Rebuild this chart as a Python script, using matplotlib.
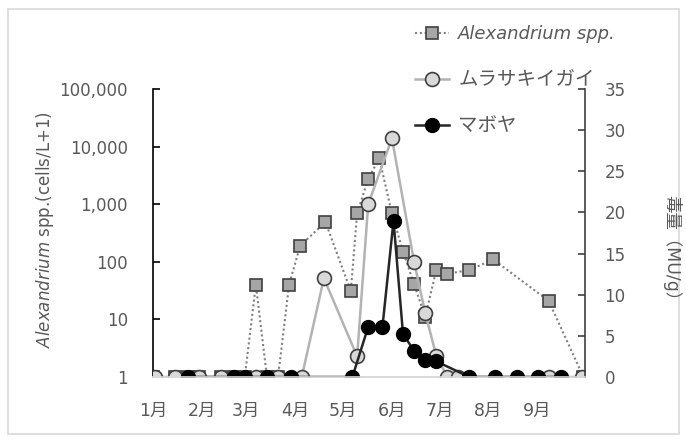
import matplotlib
matplotlib.use("Agg")
import matplotlib.pyplot as plt
from matplotlib.patches import Rectangle

plt.rcParams['font.family'] = ['DejaVu Sans', 'Noto Sans CJK JP']

# sampling day (days since 1 Jan) and values
alex_days = [0, 14, 22, 29, 43, 51, 58, 65, 72, 79, 86, 93, 109, 125, 129, 136,
             143, 151, 158, 165, 172, 179, 186, 200, 215, 250, 272]
alex_cells = [1, 1, 1, 1, 1, 1, 1, 40, 1, 1, 40, 190, 490, 31, 690, 2770,
              6250, 690, 150, 41, 11, 72, 62, 72, 110, 21, 1]

mussel_days = [1, 14, 29, 43, 65, 79, 94, 108, 129, 136, 151, 165, 172, 179,
               186, 193, 250, 271]
mussel_tox = [0, 0, 0, 0, 0, 0, 0, 12.0, 2.5, 21.0, 29.0, 14.0, 7.8, 2.6,
              0, 0, 0, 0]

ascidian_days = [22, 51, 58, 72, 87, 126, 136, 145, 152, 158, 165, 172, 179,
                 200, 216, 230, 243, 258]
ascidian_tox = [0, 0, 0, 0, 0, 0, 6.1, 6.1, 19.0, 5.2, 3.2, 2.1, 1.9,
                0, 0, 0, 0, 0]

month_days = [0, 31, 59, 90, 120, 151, 181, 212, 243]
month_labels = ['1月', '2月', '3月', '4月', '5月', '6月', '7月', '8月', '9月']

txt = '#595959'

fig = plt.figure(figsize=(6.86, 4.42), dpi=100)
fig.patches.append(Rectangle((8 / 686, 1 - 434 / 442), 671 / 686, 425 / 442,
                             transform=fig.transFigure, fill=False,
                             edgecolor='#d9d9d9', linewidth=1.2))
ax = fig.add_axes([153 / 686, 1 - 377 / 442, 432 / 686, 288 / 442])
ax2 = ax.twinx()

# Alexandrium cell density on the log axis
ax.plot(alex_days, alex_cells, color='#808080', lw=1.5, ls=(0, (1, 1.3)),
        marker='s', ms=9, mfc='#a6a6a6', mec='#404040', mew=1.2,
        label='Alexandrium spp.')
ax.set_yscale('log')
ax.set_ylim(1, 100000)
ax.set_yticks([1, 10, 100, 1000, 10000, 100000])
ax.set_yticklabels(['1', '10', '100', '1,000', '10,000', '100,000'])
ax.minorticks_off()
ax.set_xlim(0, 273)
ax.set_xticks(month_days)
ax.set_xticklabels(month_labels)

# toxicity on the secondary axis
ax2.plot(mussel_days, mussel_tox, color='#b3b3b3', lw=1.8,
         marker='o', ms=10, mfc='#d9d9d9', mec='#404040', mew=1.2,
         label='ムラサキイガイ')
ax2.plot(ascidian_days, ascidian_tox, color='#262626', lw=1.8,
         marker='o', ms=10, mfc='black', mec='black', mew=1.0,
         label='マボヤ')
ax2.set_ylim(0, 35)
ax2.set_yticks(range(0, 36, 5))

for a in (ax, ax2):
    a.spines['top'].set_visible(False)
    a.spines['bottom'].set_color('#d9d9d9')
    a.spines['bottom'].set_linewidth(1.2)
    a.tick_params(axis='y', direction='in', length=5, width=1.2,
                  labelsize=12, labelcolor=txt)
    a.tick_params(axis='x', length=0, labelsize=12.5, labelcolor=txt, pad=18)
ax.spines['left'].set_color('black')
ax.spines['left'].set_linewidth(1.2)
ax.spines['right'].set_visible(False)
ax2.spines['left'].set_visible(False)
ax2.spines['right'].set_color('#404040')
ax2.spines['right'].set_linewidth(1.2)
ax.tick_params(axis='y', color='black', pad=18)
ax2.tick_params(axis='y', color='#404040', pad=14)

fig.text(45 / 686, 1 - 230 / 442, r'$\mathit{Alexandrium}$ spp.(cells/L+1)',
         rotation=90, ha='center', va='center', fontsize=12, color=txt)
fig.text(672 / 686, 1 - 252 / 442, '毒量（MU/g）', rotation=270,
         ha='center', va='center', fontsize=12.5, color=txt)

h1, l1 = ax.get_legend_handles_labels()
h2, l2 = ax2.get_legend_handles_labels()
leg = fig.legend(h1 + h2, l1 + l2, loc='upper left',
                 bbox_to_anchor=(415 / 686, 1 - 25 / 442), frameon=False,
                 fontsize=13, handlelength=1.9, handletextpad=0.5,
                 labelspacing=1.5, borderpad=0, borderaxespad=0)
for t in leg.get_texts():
    t.set_color(txt)
leg.get_texts()[0].set_style('italic')
leg.get_texts()[1].set_fontsize(14)
leg.get_texts()[2].set_fontsize(14)

fig.savefig('out.png', dpi=100)
